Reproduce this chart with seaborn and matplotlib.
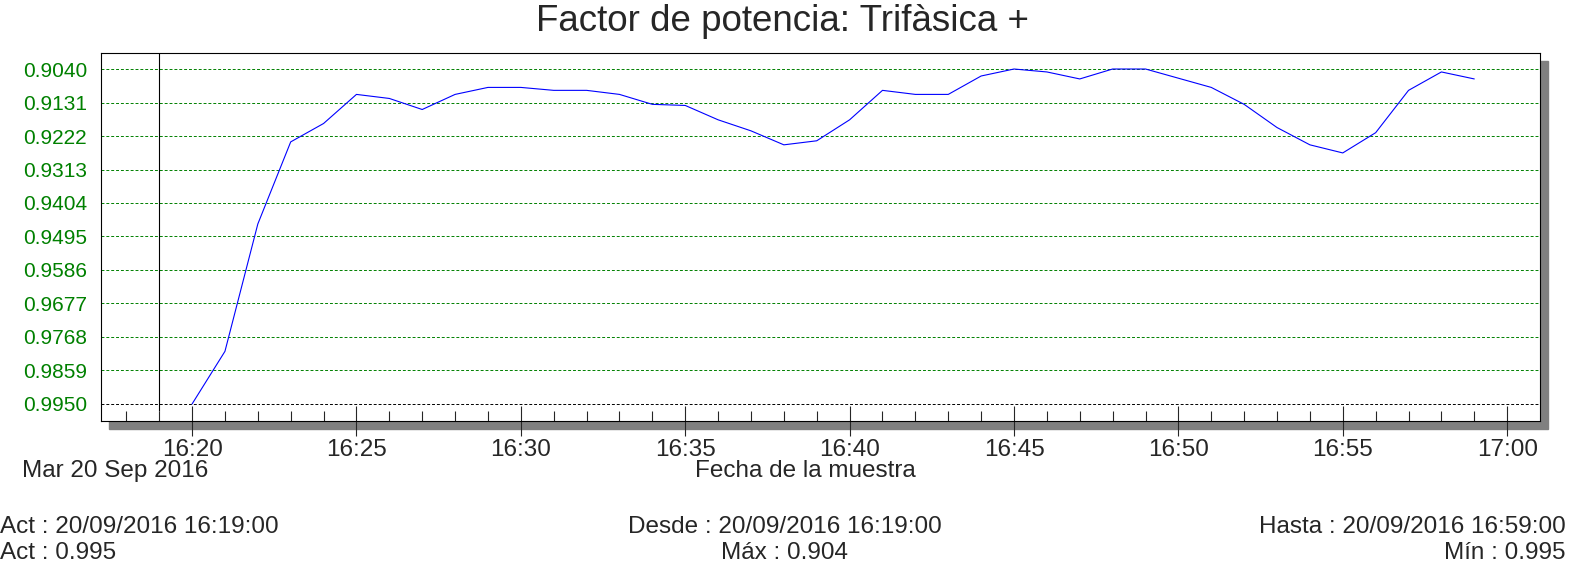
import matplotlib
matplotlib.use("Agg")
import matplotlib.pyplot as plt
import matplotlib.patches as mpatches
import seaborn as sns

# minutes after 16:00
minutes = list(range(20, 60))
pf = [0.9950, 0.9807, 0.9461, 0.9238, 0.9188, 0.9109, 0.9120, 0.9150, 0.9109, 0.9090,
      0.9090, 0.9098, 0.9098, 0.9109, 0.9136, 0.9139, 0.9178, 0.9208, 0.9246, 0.9235,
      0.9178, 0.9098, 0.9109, 0.9109, 0.9059, 0.9040, 0.9048, 0.9067, 0.9040, 0.9040,
      0.9065, 0.9090, 0.9136, 0.9199, 0.9246, 0.9268, 0.9213, 0.9098, 0.9048, 0.9067]
y_ticks = [0.9040, 0.9131, 0.9222, 0.9313, 0.9404, 0.9495, 0.9586, 0.9677, 0.9768, 0.9859, 0.9950]
x_ticks = [20, 25, 30, 35, 40, 45, 50, 55, 60]
x_labels = ["16:20", "16:25", "16:30", "16:35", "16:40", "16:45", "16:50", "16:55", "17:00"]

sns.set_style("white")
plt.rcParams['font.family'] = ['Liberation Sans', 'DejaVu Sans']

fig = plt.figure(figsize=(15.88, 5.76), dpi=100)
pos = [0.0636, 0.2691, 0.9062, 0.6389]
ax = fig.add_axes(pos)

# drop shadow
fig.patches.append(mpatches.Rectangle((pos[0] + 0.005, pos[1] - 0.0139), pos[2], pos[3],
                                      transform=fig.transFigure, color="#808080", zorder=0))
ax.set_facecolor("white")
ax.set_zorder(1)

sns.lineplot(x=minutes, y=pf, ax=ax, color="blue", linewidth=0.8)

for i, t in enumerate(y_ticks):
    ax.axhline(t, color="black" if i == len(y_ticks) - 1 else "green",
               linestyle=(0, (3, 2)), linewidth=0.7, zorder=0)
ax.vlines(19, 0.9969, 0.8990, color="black", linewidth=0.8)

ax.set_xlim(17.23, 61.0)
ax.set_ylim(0.99962, 0.89965)
ax.set_yticks(y_ticks)
ax.set_yticklabels([f"{t:.4f}" for t in y_ticks], color="green", fontsize=15)
ax.set_xticks(x_ticks)
ax.set_xticklabels(x_labels, fontsize=17.5)
ax.set_xticks(range(18, 61), minor=True)
ax.tick_params(axis="x", which="major", direction="inout", length=22, width=0.8, bottom=True, pad=2)
ax.tick_params(axis="x", which="minor", direction="in", length=7, width=0.8, bottom=True)
ax.tick_params(axis="y", length=0, pad=10)
for s in ax.spines.values():
    s.set_color("black")
    s.set_linewidth(0.8)

fig.text(0.493, 0.962, "Factor de potencia: Trifàsica +", ha="center", va="center", fontsize=26.5)
fig.text(0.507, 0.183, "Fecha de la muestra", ha="center", va="center", fontsize=17.5)
fig.text(0.014, 0.183, "Mar 20 Sep 2016", ha="left", va="center", fontsize=17.5)

fig.text(0.0, 0.085, "Act : 20/09/2016 16:19:00", ha="left", va="center", fontsize=17.5)
fig.text(0.0, 0.040, "Act : 0.995", ha="left", va="center", fontsize=17.5)
fig.text(0.494, 0.085, "Desde : 20/09/2016 16:19:00", ha="center", va="center", fontsize=17.5)
fig.text(0.494, 0.040, "Máx : 0.904", ha="center", va="center", fontsize=17.5)
fig.text(0.986, 0.085, "Hasta : 20/09/2016 16:59:00", ha="right", va="center", fontsize=17.5)
fig.text(0.986, 0.040, "Mín : 0.995", ha="right", va="center", fontsize=17.5)

fig.savefig("out.png", dpi=100)
